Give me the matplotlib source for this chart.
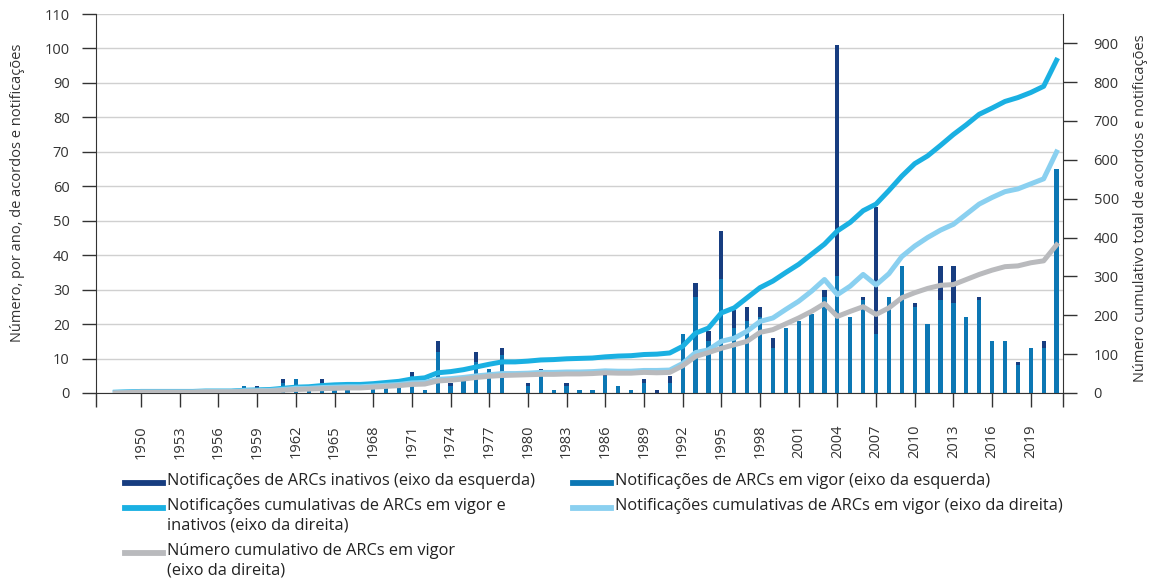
import numpy as np
import matplotlib
matplotlib.use("Agg")
import matplotlib.pyplot as plt
from matplotlib.lines import Line2D

plt.rcParams['font.family'] = ['Open Sans', 'DejaVu Sans']

# years shown on the category axis (first slot 1947 is empty)
years = np.arange(1948, 2022)

# notifications of RTAs in force (left axis)
active = [0, 1, 0, 0, 0, 0, 0, 1, 0, 0,
          2, 1, 0, 3, 4, 1, 3, 2, 1, 0,
          2, 2, 2, 5, 1, 12, 2, 5, 9, 7,
          11, 0, 2, 6, 1, 2, 1, 1, 5, 2,
          1, 3, 0, 3, 17, 28, 15, 33, 19, 21,
          22, 13, 19, 21, 23, 28, 34, 22, 27, 17,
          28, 37, 25, 20, 27, 26, 22, 27, 15, 15,
          8, 13, 13, 65]

# notifications of inactive RTAs (left axis)
inactive = [0, 0, 0, 0, 0, 0, 0, 0, 0, 0,
            0, 1, 0, 1, 0, 0, 1, 0, 0, 0,
            0, 0, 0, 1, 0, 3, 1, 0, 3, 0,
            2, 0, 1, 1, 0, 1, 0, 0, 2, 0,
            0, 1, 1, 2, 0, 4, 3, 14, 5, 4,
            3, 3, 0, 0, 0, 2, 67, 0, 1, 37,
            0, 0, 1, 0, 10, 11, 0, 1, 0, 0,
            1, 0, 2, 0]

# cumulative notifications, in force + inactive (right axis)
cum_all = [2, 3, 4, 4, 4, 4, 4, 5, 5, 5,
           7, 8, 9, 12, 15, 16, 19, 21, 22, 22,
           24, 27, 30, 36, 39, 52, 55, 60, 67, 74,
           80, 80, 82, 85, 86, 88, 89, 90, 93, 95,
           96, 99, 100, 103, 120, 154, 167, 206, 219, 245,
           271, 288, 310, 331, 357, 383, 417, 439, 469, 486,
           521, 558, 590, 610, 637, 665, 690, 717, 733, 750,
           760, 773, 789, 856]

# cumulative notifications of RTAs in force (right axis)
cum_active = [1, 2, 3, 3, 3, 3, 3, 4, 4, 4,
              6, 6, 7, 9, 12, 12, 14, 15, 16, 16,
              18, 20, 22, 26, 27, 35, 37, 40, 44, 47,
              50, 50, 51, 53, 53, 54, 54, 55, 57, 56,
              56, 58, 58, 59, 76, 104, 111, 133, 141, 159,
              184, 193, 215, 236, 262, 292, 253, 275, 305, 278,
              307, 351, 378, 400, 419, 434, 460, 486, 503, 518,
              525, 538, 551, 620]

# cumulative number of RTAs in force (right axis)
cum_rtas = [0, 1, 2, 2, 2, 2, 2, 3, 3, 3,
            4, 5, 5, 7, 9, 10, 11, 12, 13, 13,
            15, 17, 19, 22, 23, 31, 33, 36, 40, 43,
            45, 46, 47, 48, 48, 49, 49, 50, 52, 51,
            51, 53, 52, 53, 70, 94, 104, 115, 124, 133,
            156, 163, 178, 193, 210, 230, 197, 210, 222, 202,
            219, 245, 258, 269, 277, 279, 292, 305, 316, 325,
            327, 335, 340, 381]

tick_years = list(range(1950, 2020, 3))

c_inactive = '#173d80'
c_active = '#0c77b4'
c_cum_all = '#1ab0e2'
c_cum_active = '#8ad0f0'
c_cum_rtas = '#b9babd'
c_axis = '#333333'

W, H = 1153, 583
fig = plt.figure(figsize=(W / 100, H / 100), dpi=100)
ax = fig.add_axes([96 / W, 1 - 393 / H, (1063 - 96) / W, (393 - 14) / H])

ax.bar(years, active, width=0.33, color=c_active, zorder=2)
ax.bar(years, inactive, width=0.33, bottom=active, color=c_inactive, zorder=2)

ax.set_xlim(1946.5, 2021.5)
ax.set_ylim(0, 110)
ax.set_yticks(range(0, 111, 10))
ax.set_xticks(tick_years)
ax.set_xticklabels([str(y) for y in tick_years], rotation=90)
ax.set_xticks([1946.5, 2021.5], minor=True)
ax.yaxis.grid(True, color='#d0d0d0', lw=1)
ax.set_axisbelow(True)

ax.tick_params(axis='y', length=10, width=1, pad=9, labelsize=10.5, colors=c_axis)
ax.tick_params(axis='x', which='both', length=10, width=1, pad=13, labelsize=10.5,
               colors=c_axis, direction='out')
for s in ['top', 'right']:
    ax.spines[s].set_visible(False)
ax.spines['left'].set_color(c_axis)
ax.spines['bottom'].set_color(c_axis)

ax2 = ax.twinx()
ax2.plot(years, cum_all, color=c_cum_all, lw=3.6, solid_joinstyle='round')
ax2.plot(years, cum_active, color=c_cum_active, lw=3.6, solid_joinstyle='round')
ax2.plot(years, cum_rtas, color=c_cum_rtas, lw=3.6, solid_joinstyle='round')
ax2.set_ylim(0, 975)
ax2.set_yticks(range(0, 901, 100))
ax2.tick_params(axis='y', length=10, width=1, pad=12, labelsize=10.5, colors=c_axis)
for s in ['top', 'left', 'bottom']:
    ax2.spines[s].set_visible(False)
ax2.spines['right'].set_color(c_axis)

fig.text(18 / W, 1 - 193 / H, 'Número, por ano, de acordos e notificações',
         rotation=90, ha='center', va='center', fontsize=10.5, color=c_axis)
fig.text(1141 / W, 1 - 208 / H, 'Número cumulativo total de acordos e notificações',
         rotation=90, ha='center', va='center', fontsize=10.5, color=c_axis)

# legend drawn by hand so the rows line up like the original
legend_items = [
    (125, 483, c_inactive, 'Notificações de ARCs inativos (eixo da esquerda)'),
    (573, 483, c_active, 'Notificações de ARCs em vigor (eixo da esquerda)'),
    (125, 508, c_cum_all, 'Notificações cumulativas de ARCs em vigor e\ninativos (eixo da direita)'),
    (573, 508, c_cum_active, 'Notificações cumulativas de ARCs em vigor (eixo da direita)'),
    (125, 553, c_cum_rtas, 'Número cumulativo de ARCs em vigor\n(eixo da direita)'),
]

# size the legend text so the first entry is as wide as in the original (about 368 px)
renderer = fig.canvas.get_renderer()
probe = fig.text(0, 0, legend_items[0][3], fontsize=10)
probe_w = probe.get_window_extent(renderer).width
probe.remove()
leg_size = 10 * 368 / probe_w

for x0, y0, col, label in legend_items:
    fig.add_artist(Line2D([x0 / W, (x0 + 38) / W], [1 - y0 / H, 1 - y0 / H],
                          color=col, lw=4.2, transform=fig.transFigure))
    fig.text((x0 + 42) / W, 1 - (y0 - 10) / H, label, ha='left', va='top',
             fontsize=leg_size, color='#222222', linespacing=1.3)

fig.savefig('out.png', dpi=100)
